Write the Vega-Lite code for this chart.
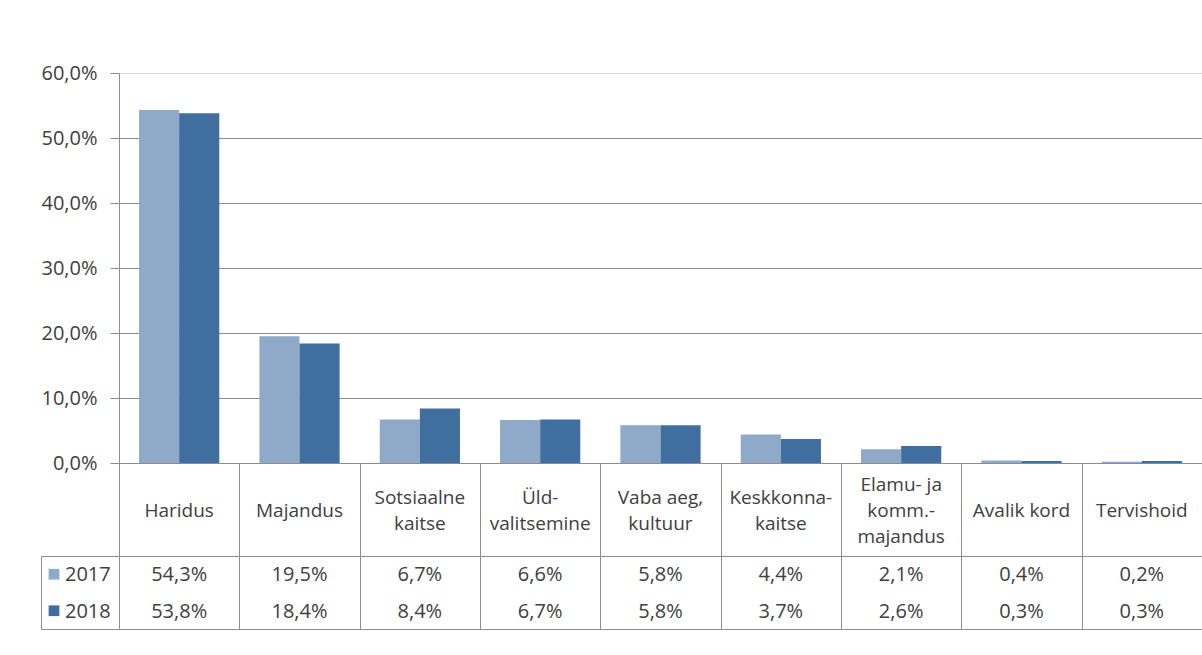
{
  "$schema": "https://vega.github.io/schema/vega-lite/v6.json",
  "padding": {"left": 40, "top": 63, "right": 0, "bottom": 0},
  "config": {
    "font": "Open Sans",
    "view": {"stroke": null},
    "text": {"color": "#404040"},
    "axis": {"labelFont": "Open Sans", "labelColor": "#404040"},
    "locale": {"number": {"decimal": ",", "thousands": "\u00a0", "grouping": [3], "currency": ["", "\u00a0€"]}}
  },
  "datasets": {
    "vals": [
      {"cat": "Haridus", "year": "2017", "value": 0.543},
      {"cat": "Haridus", "year": "2018", "value": 0.538},
      {"cat": "Majandus", "year": "2017", "value": 0.195},
      {"cat": "Majandus", "year": "2018", "value": 0.184},
      {"cat": "Sotsiaalne kaitse", "year": "2017", "value": 0.067},
      {"cat": "Sotsiaalne kaitse", "year": "2018", "value": 0.084},
      {"cat": "Üldvalitsemine", "year": "2017", "value": 0.066},
      {"cat": "Üldvalitsemine", "year": "2018", "value": 0.067},
      {"cat": "Vaba aeg, kultuur", "year": "2017", "value": 0.058},
      {"cat": "Vaba aeg, kultuur", "year": "2018", "value": 0.058},
      {"cat": "Keskkonnakaitse", "year": "2017", "value": 0.044},
      {"cat": "Keskkonnakaitse", "year": "2018", "value": 0.037},
      {"cat": "Elamu- ja kommunaalmajandus", "year": "2017", "value": 0.021},
      {"cat": "Elamu- ja kommunaalmajandus", "year": "2018", "value": 0.026},
      {"cat": "Avalik kord", "year": "2017", "value": 0.004},
      {"cat": "Avalik kord", "year": "2018", "value": 0.003},
      {"cat": "Tervishoid", "year": "2017", "value": 0.002},
      {"cat": "Tervishoid", "year": "2018", "value": 0.003}
    ],
    "cats": [
      {"cat": "Haridus", "label": "Haridus"},
      {"cat": "Majandus", "label": "Majandus"},
      {"cat": "Sotsiaalne kaitse", "label": "Sotsiaalne|kaitse"},
      {"cat": "Üldvalitsemine", "label": "Üld-|valitsemine"},
      {"cat": "Vaba aeg, kultuur", "label": "Vaba aeg,|kultuur"},
      {"cat": "Keskkonnakaitse", "label": "Keskkonna-|kaitse"},
      {"cat": "Elamu- ja kommunaalmajandus", "label": "Elamu- ja|komm.-|majandus"},
      {"cat": "Avalik kord", "label": "Avalik kord"},
      {"cat": "Tervishoid", "label": "Tervishoid"}
    ],
    "years": [
      {"year": "2017"},
      {"year": "2018"}
    ]
  },
  "columns": 2,
  "spacing": 0,
  "bounds": "flush",
  "concat": [
    {
      "width": 78,
      "height": 390,
      "data": {"values": []},
      "mark": "point",
      "encoding": {}
    },
    {
      "width": 1083,
      "height": 390,
      "data": {"name": "vals"},
      "mark": {"type": "bar"},
      "encoding": {
        "x": {"field": "cat", "type": "nominal", "sort": null, "scale": {"paddingInner": 0, "paddingOuter": 0}, "axis": null},
        "xOffset": {"field": "year", "type": "nominal", "scale": {"paddingInner": 0, "paddingOuter": 0.5}},
        "y": {
          "field": "value", "type": "quantitative",
          "scale": {"domain": [0, 0.6], "nice": false},
          "axis": {
            "title": null, "values": [0, 0.1, 0.2, 0.3, 0.4, 0.5, 0.6], "format": ".1%",
            "grid": true,
            "gridColor": {"condition": {"test": "datum.value >= 0.59", "value": "#d9d9d9"}, "value": "#8c8c8c"},
            "domainColor": "#8c8c8c", "tickColor": "#8c8c8c", "tickSize": 9,
            "labelFontSize": 20, "labelPadding": 13
          }
        },
        "color": {"field": "year", "type": "nominal", "scale": {"domain": ["2017", "2018"], "range": ["#8fa9c8", "#406e9e"]}, "legend": null}
      }
    },
    {
      "width": 78,
      "height": 93,
      "data": {"values": []},
      "mark": "point",
      "encoding": {}
    },
    {
      "width": 1083,
      "height": 93,
      "data": {"name": "cats"},
      "view": {"stroke": "#8c8c8c"},
      "transform": [{"calculate": "length(split(datum.label, '|'))", "as": "nlines"}],
      "mark": {"type": "text", "lineBreak": "|", "fontSize": 19, "lineHeight": 26, "dy": 1},
      "encoding": {
        "x": {
          "field": "cat", "type": "nominal", "sort": null,
          "scale": {"paddingInner": 0, "paddingOuter": 0},
          "axis": {"title": null, "labels": false, "ticks": false, "domain": false, "grid": true, "tickBand": "extent", "gridColor": "#8c8c8c"}
        },
        "y": {"field": "nlines", "type": "quantitative", "scale": {"domain": [-2.577, 4.577], "nice": false, "zero": false}, "axis": null},
        "text": {"field": "label"}
      }
    },
    {
      "width": 78,
      "height": 73,
      "data": {"name": "years"},
      "view": {"stroke": "#8c8c8c"},
      "layer": [
        {
          "mark": {"type": "square", "size": 115, "opacity": 1},
          "encoding": {
            "x": {"datum": "sym", "type": "nominal", "scale": {"type": "point", "domain": ["sym", "label"], "range": [13, 24], "padding": 0}, "axis": null},
            "y": {"field": "year", "type": "nominal", "scale": {"paddingInner": 0, "paddingOuter": 0}, "axis": null},
            "color": {"field": "year", "type": "nominal", "scale": {"domain": ["2017", "2018"], "range": ["#8fa9c8", "#406e9e"]}, "legend": null}
          }
        },
        {
          "mark": {"type": "text", "align": "left", "fontSize": 20, "dy": 1},
          "encoding": {
            "x": {"datum": "label", "type": "nominal", "scale": {"type": "point", "domain": ["sym", "label"], "range": [13, 24], "padding": 0}, "axis": null},
            "y": {"field": "year", "type": "nominal", "scale": {"paddingInner": 0, "paddingOuter": 0}, "axis": null},
            "text": {"field": "year"}
          }
        }
      ]
    },
    {
      "width": 1083,
      "height": 73,
      "data": {"name": "vals"},
      "view": {"stroke": "#8c8c8c"},
      "mark": {"type": "text", "fontSize": 20, "dy": 1},
      "encoding": {
        "x": {
          "field": "cat", "type": "nominal", "sort": null,
          "scale": {"paddingInner": 0, "paddingOuter": 0},
          "axis": {"title": null, "labels": false, "ticks": false, "domain": false, "grid": true, "tickBand": "extent", "gridColor": "#8c8c8c"}
        },
        "y": {"field": "year", "type": "nominal", "scale": {"paddingInner": 0, "paddingOuter": 0}, "axis": null},
        "text": {"field": "value", "type": "quantitative", "format": ".1%"}
      }
    }
  ]
}
